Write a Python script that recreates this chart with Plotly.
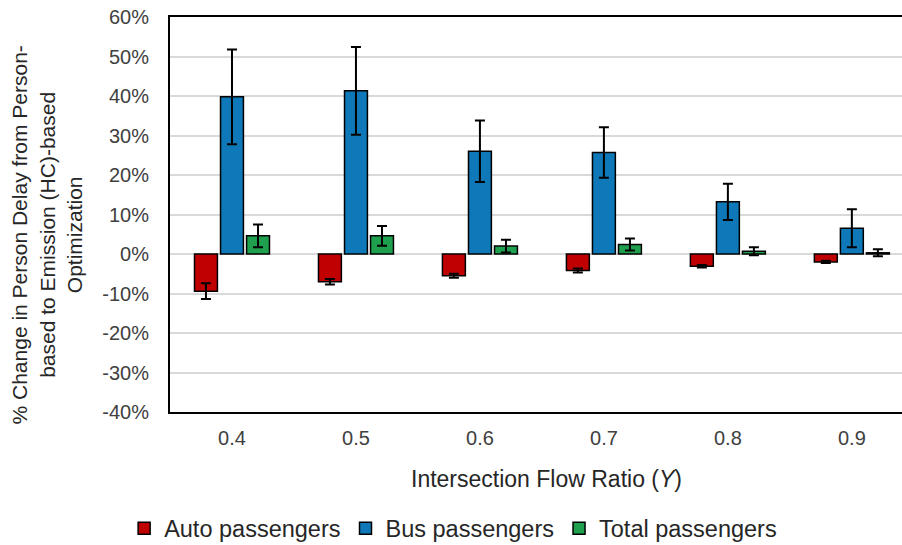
import plotly.graph_objects as go

# Valori (% schimbare in intarzierea pe persoana)
flow_ratio = ['0.4', '0.5', '0.6', '0.7', '0.8', '0.9']

auto_val = [-9.4, -7.0, -5.5, -4.2, -3.1, -2.0]
auto_err = [2.0, 0.7, 0.5, 0.5, 0.3, 0.3]

bus_val = [39.8, 41.3, 26.0, 25.7, 13.2, 6.5]
bus_err = [12.0, 11.1, 7.8, 6.4, 4.6, 4.8]

total_val = [4.6, 4.6, 2.0, 2.4, 0.7, 0.3]
total_err = [2.9, 2.5, 1.6, 1.5, 1.0, 0.9]

y_ticks = [-40, -30, -20, -10, 0, 10, 20, 30, 40, 50, 60]
y_tick_labels = ['-40%', '-30%', '-20%', '-10%', '0%', '10%', '20%', '30%', '40%', '50%', '60%']

series = [
    ('Auto passengers', auto_val, auto_err, '#C00000'),
    ('Bus passengers', bus_val, bus_err, '#0E78B8'),
    ('Total passengers', total_val, total_err, '#1FA04E'),
]

fig = go.Figure()
for name, vals, errs, color in series:
    fig.add_trace(go.Bar(
        x=flow_ratio,
        y=vals,
        name=name,
        marker=dict(color=color, line=dict(color='black', width=1.5)),
        error_y=dict(type='data', array=errs, visible=True,
                     color='black', thickness=2, width=5),
    ))

font_main = 'Liberation Sans, Arial, sans-serif'

# graficul original e taiat in dreapta, deci zona de plot iese putin din fereastra
fig.update_layout(
    width=925,
    height=551,
    barmode='group',
    bargap=0.37,
    bargroupgap=0.12,
    plot_bgcolor='white',
    paper_bgcolor='white',
    margin=dict(l=170, r=0, t=17, b=133),
    font=dict(family=font_main, size=20, color='#404040'),
    showlegend=True,
    legend=dict(
        orientation='h',
        x=0.375, xanchor='center',
        y=-0.295, yanchor='middle',
        font=dict(size=23.5, color='#262626'),
        itemwidth=30,
    ),
    xaxis=dict(
        type='category',
        range=[-0.5, 5.59],
        showline=True, linecolor='black', linewidth=2, mirror=True,
        showgrid=False, ticks='',
        ticklabelstandoff=7,
        automargin=False,
    ),
    yaxis=dict(
        range=[-40, 60],
        tickvals=y_ticks,
        ticktext=y_tick_labels,
        showline=True, linecolor='black', linewidth=2,
        showgrid=True, gridcolor='#D9D9D9', gridwidth=1.5,
        zeroline=True, zerolinecolor='#D9D9D9', zerolinewidth=1.5,
        ticks='', ticklabelstandoff=15,
        ticklabeloverflow='allow',
        automargin=False,
    ),
    annotations=[
        dict(
            text='Intersection Flow Ratio (<i>Y</i>)',
            xref='paper', yref='paper', x=0.4993, y=-0.1696,
            xanchor='center', yanchor='middle', showarrow=False,
            font=dict(size=23, color='#262626'),
        ),
        dict(
            text='% Change in Person Delay from Person-<br>based to Emission (HC)-based<br>Optimization',
            xref='paper', yref='paper', x=-0.1623, y=0.448,
            xanchor='center', yanchor='middle', showarrow=False,
            textangle=-90,
            font=dict(size=21, color='#262626'),
        ),
    ],
)

# fara marginea implicita a paginii, ca figura sa stea exact in fereastra
fig.write_html("out.html",
               config={'displayModeBar': False},
               post_script="document.body.style.margin='0';document.body.style.overflow='hidden';")
